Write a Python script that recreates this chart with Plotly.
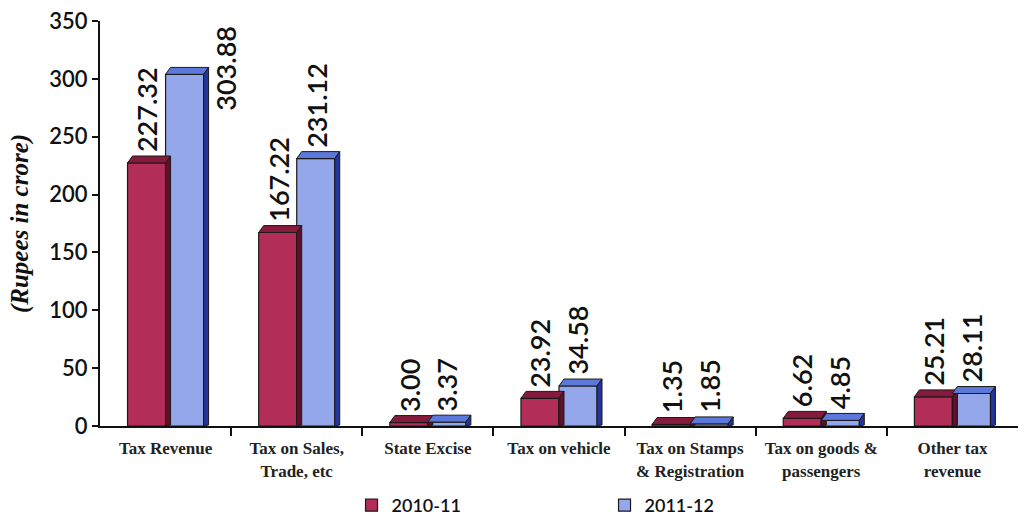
import plotly.graph_objects as go

# Tax revenue components (Rupees in crore)
categories = [
    "Tax Revenue",
    "Tax on Sales,<br>Trade, etc",
    "State Excise",
    "Tax on vehicle",
    "Tax on Stamps<br>& Registration",
    "Tax on goods &<br>passengers",
    "Other tax<br>revenue",
]
values_2010_11 = [227.32, 167.22, 3.00, 23.92, 1.35, 6.62, 25.21]
values_2011_12 = [303.88, 231.12, 3.37, 34.58, 1.85, 4.85, 28.11]
series_names = ["2010-11", "2011-12"]
y_ticks = [0, 50, 100, 150, 200, 250, 300, 350]

# styling
RED_FRONT, RED_TOP, RED_SIDE = "#B22D58", "#861A3C", "#5E1028"
BLUE_FRONT, BLUE_TOP, BLUE_SIDE = "#94A7EA", "#5B78DA", "#23349A"
BAR_W = 0.29
DEPTH_X = 0.038   # horizontal depth of the pseudo-3D faces (category units)
DEPTH_Y = 6.0     # vertical depth of the pseudo-3D faces (value units)

W, H = 1029, 517
M = dict(l=100, r=11, t=21, b=91, autoexpand=False)

SANS = "Lato, 'Open Sans', sans-serif"
SERIF = "'Liberation Serif', 'Times New Roman', serif"

fig = go.Figure()
idx = list(range(len(categories)))

fig.add_trace(go.Bar(
    x=idx, y=values_2010_11, name=series_names[0], width=BAR_W, offset=-BAR_W,
    marker=dict(color=RED_FRONT, line=dict(color="#1a1a1a", width=1.2)),
))
fig.add_trace(go.Bar(
    x=idx, y=values_2011_12, name=series_names[1], width=BAR_W, offset=0,
    marker=dict(color=BLUE_FRONT, line=dict(color="#1a1a1a", width=1.2)),
))

shapes = []
annotations = []


def faces(x0, x1, v, top, side):
    # top parallelogram
    shapes.append(dict(
        type="path", xref="x", yref="y", layer="above",
        path=f"M {x0},{v} L {x1},{v} L {x1 + DEPTH_X},{v + DEPTH_Y} L {x0 + DEPTH_X},{v + DEPTH_Y} Z",
        fillcolor=top, line=dict(color="#1a1a1a", width=1),
    ))
    # right side face
    shapes.append(dict(
        type="path", xref="x", yref="y", layer="above",
        path=f"M {x1},0 L {x1},{v} L {x1 + DEPTH_X},{v + DEPTH_Y} L {x1 + DEPTH_X},{DEPTH_Y * 0.15} Z",
        fillcolor=side, line=dict(color="#1a1a1a", width=1),
    ))


label_font = dict(family=SANS, size=27, color="#111111", weight=600)

for i in idx:
    v1, v2 = values_2010_11[i], values_2011_12[i]
    faces(i - BAR_W, i, v1, RED_TOP, RED_SIDE)
    faces(i, i + BAR_W, v2, BLUE_TOP, BLUE_SIDE)
    annotations.append(dict(
        x=i - BAR_W / 2, y=v1 + DEPTH_Y, xref="x", yref="y", text=f"{v1:.2f}",
        textangle=-90, showarrow=False, yanchor="bottom", yshift=2, font=label_font,
    ))
    if v2 + DEPTH_Y > 300:
        # no room above the tallest bar: put its label beside it
        annotations.append(dict(
            x=i + BAR_W + 0.17, y=348, xref="x", yref="y", text=f"{v2:.2f}",
            textangle=-90, showarrow=False, yanchor="top", font=label_font,
        ))
    else:
        annotations.append(dict(
            x=i + BAR_W / 2, y=v2 + DEPTH_Y, xref="x", yref="y", text=f"{v2:.2f}",
            textangle=-90, showarrow=False, yanchor="bottom", yshift=2, font=label_font,
        ))

fig.update_layout(
    width=W, height=H, margin=M,
    paper_bgcolor="white", plot_bgcolor="white",
    barmode="overlay",
    shapes=shapes, annotations=annotations,
    showlegend=True,
    legend=dict(
        orientation="h", xref="paper", yref="paper", x=0.274, y=-0.242,
        xanchor="left", yanchor="bottom", entrywidth=208,
        font=dict(family=SANS, size=18, color="#111111", weight=600),
        itemclick=False,
    ),
    xaxis=dict(
        type="linear", range=[-0.5, len(categories) - 0.5], automargin=False,
        tickvals=idx, ticktext=categories, ticks="", ticklabelstandoff=6,
        tickfont=dict(family=SERIF, size=17, color="#222222", weight="bold"),
        showline=True, linecolor="#111111", linewidth=2, showgrid=False, zeroline=False,
        minor=dict(tickvals=[i + 0.5 for i in idx[:-1]], ticks="outside", ticklen=8,
                   tickcolor="#111111", tickwidth=1.5, showgrid=False),
        fixedrange=True,
    ),
    yaxis=dict(
        range=[0, 350], tickvals=y_ticks, ticks="outside", ticklen=6, tickwidth=1.5,
        tickcolor="#111111", showline=True, linecolor="#111111", linewidth=2,
        showgrid=False, zeroline=False, automargin=False,
        tickfont=dict(family=SANS, size=22, color="#111111", weight=600),
        title=dict(text="<b><i>(Rupees in crore)</i></b>", standoff=14,
                   font=dict(family=SERIF, size=25, color="#111111")),
        fixedrange=True,
    ),
)

fig.write_html("out.html")
